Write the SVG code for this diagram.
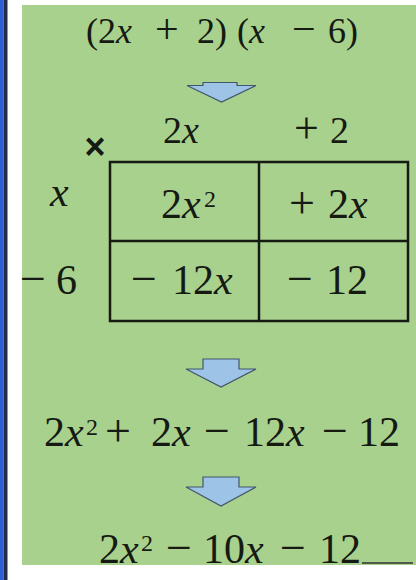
<svg xmlns="http://www.w3.org/2000/svg" width="416" height="580" viewBox="0 0 416 580">
<style>
.m{font-family:"Liberation Serif","Times New Roman",serif;fill:#151a12;}
.i{font-style:italic;}
.o{font-size:46px;}
.arr{fill:#9dc3e6;stroke:#44566b;stroke-width:1.2;stroke-linejoin:miter;}
.grid{fill:none;stroke:#151a12;stroke-width:2.5;}
</style>
<rect x="0" y="0" width="416" height="580" fill="#ffffff"/>
<rect x="0" y="0" width="3.5" height="580" fill="#2f5fd2"/>
<rect x="3.5" y="0" width="4" height="580" fill="#222d4c"/>
<rect x="22" y="5" width="394" height="560" fill="#a9d18e"/>
<line x1="362" y1="563" x2="413" y2="563" stroke="#4f5a4a" stroke-width="2"/>

<g id="start">
<text class="m" font-size="36" y="43"><tspan x="86">(2</tspan><tspan class="i">x</tspan><tspan x="155" font-size="42">+</tspan><tspan x="197">2)</tspan><tspan x="237">(</tspan><tspan class="i">x</tspan><tspan x="292" font-size="42">−</tspan><tspan x="328">6)</tspan></text>
</g>

<g id="grid">
<text x="95" y="159" font-family="Liberation Sans, Arial, sans-serif" font-size="36" font-weight="bold" fill="#151a12" text-anchor="middle">×</text>
<text class="m" font-size="38" y="143"><tspan x="163">2</tspan><tspan class="i">x</tspan><tspan x="294" font-size="44">+</tspan><tspan x="330">2</tspan></text>
<text class="m i" font-size="42" x="50" y="206">x</text>
<text class="m" font-size="42" y="294"><tspan x="20" class="o">−</tspan><tspan x="56">6</tspan></text>
<rect class="grid" x="110" y="162" width="298" height="159"/>
<line class="grid" x1="259" y1="162" x2="259" y2="321"/>
<line class="grid" x1="110" y1="241" x2="408" y2="241"/>
<text class="m" font-size="42" y="218"><tspan x="161">2</tspan><tspan class="i">x</tspan><tspan x="204" font-size="24" dy="-11">2</tspan></text>
<text class="m" font-size="42" y="218"><tspan x="289" class="o">+</tspan><tspan x="328">2</tspan><tspan class="i">x</tspan></text>
<text class="m" font-size="42" y="294"><tspan x="131" class="o">−</tspan><tspan x="172">12</tspan><tspan class="i">x</tspan></text>
<text class="m" font-size="42" y="294"><tspan x="287" class="o">−</tspan><tspan x="326">12</tspan></text>
</g>

<g id="expanded">
<text class="m" font-size="42" y="446"><tspan x="44">2</tspan><tspan class="i">x</tspan><tspan x="86" font-size="24" dy="-11">2</tspan><tspan x="105" dy="11" class="o">+</tspan><tspan x="151">2</tspan><tspan class="i">x</tspan><tspan x="204" class="o">−</tspan><tspan x="244">12</tspan><tspan class="i">x</tspan><tspan x="322" class="o">−</tspan><tspan x="358">12</tspan></text>
</g>

<g id="result">
<text class="m" font-size="42" y="563"><tspan x="99">2</tspan><tspan class="i">x</tspan><tspan x="141" font-size="24" dy="-12">2</tspan><tspan x="166" dy="12" class="o">−</tspan><tspan x="203">10</tspan><tspan class="i">x</tspan><tspan x="280" class="o">−</tspan><tspan x="319">12</tspan></text>
</g>

<g id="connectors">
<polygon class="arr" points="203,82.5 237,82.5 237,85.5 256,85.5 221.5,102 187,85.5 203,85.5"/>
<polygon class="arr" points="203,359 239,359 239,369 256,369 221,387 186,369 203,369"/>
<polygon class="arr" points="203,477 239,477 239,487 256,487 221,506 186,487 203,487"/>
</g>
</svg>
